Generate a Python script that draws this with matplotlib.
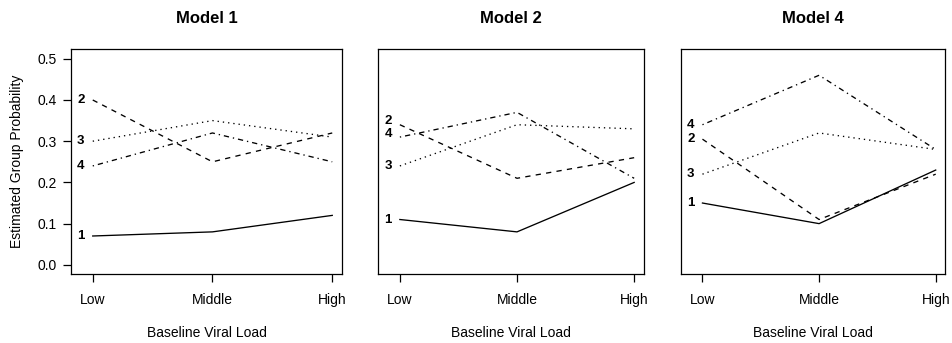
import matplotlib
matplotlib.use('Agg')
import matplotlib.pyplot as plt

plt.rcParams['font.family'] = ['Liberation Sans', 'DejaVu Sans']

categories = ['Low', 'Middle', 'High']
xpos = [1, 2, 3]
models = ['Model 1', 'Model 2', 'Model 4']
groups = ['1', '2', '3', '4']

# group probabilities per model, groups 1..4
model1 = [[0.07, 0.08, 0.12],
          [0.40, 0.25, 0.32],
          [0.30, 0.35, 0.31],
          [0.24, 0.32, 0.25]]
model2 = [[0.11, 0.08, 0.20],
          [0.34, 0.21, 0.26],
          [0.24, 0.34, 0.33],
          [0.31, 0.37, 0.21]]
model4 = [[0.15, 0.10, 0.23],
          [0.305, 0.11, 0.22],
          [0.22, 0.32, 0.28],
          [0.34, 0.46, 0.28]]
# y positions of the group labels at the left
labels1 = [0.07, 0.40, 0.30, 0.24]
labels2 = [0.11, 0.349, 0.24, 0.318]
labels4 = [0.15, 0.305, 0.22, 0.34]

yticks = [0.0, 0.1, 0.2, 0.3, 0.4, 0.5]

styles = ['-', (0, (4, 4)), (0, (1, 3)), (0, (1, 3, 4, 3))]

W, H = 953, 343
# axes boxes in pixels: left, right
boxes = [(70.7, 342.3), (378.3, 644.0), (681.0, 945.5)]
top, bottom = 49.3, 273.5

def addPanel(fig, box, title, data, labelY, first):
  left, right = box
  ax = fig.add_axes([left / W, 1 - bottom / H, (right - left) / W, (bottom - top) / H])
  for i in range(len(groups)):
    ax.plot(xpos, data[i], color='black', lw=0.95, linestyle=styles[i])
    ax.text(0.9, labelY[i], groups[i], ha='center', va='center', fontsize=9.5, fontweight='bold')
  ax.set_xlim(0.816, 3.084)
  ax.set_ylim(-0.021, 0.523)
  ax.set_xticks(xpos)
  ax.set_xticklabels(categories, fontsize=10)
  ax.tick_params(axis='x', length=6, width=0.9, pad=8)
  if first:
    ax.set_yticks(yticks)
    ax.set_yticklabels(['%.1f' % v for v in yticks], fontsize=10)
    ax.tick_params(axis='y', length=6, width=0.9, pad=4)
    ax.set_ylabel('Estimated Group Probability', fontsize=10, labelpad=10)
  else:
    ax.set_yticks([])
  for s in ax.spines.values():
    s.set_linewidth(0.9)
  ax.set_title(title, fontsize=12, fontweight='bold', pad=19)
  ax.set_xlabel('Baseline Viral Load', fontsize=10, labelpad=14)
  return ax

fig = plt.figure(figsize=(W / 100, H / 100), dpi=100)
addPanel(fig, boxes[0], models[0], model1, labels1, True)
addPanel(fig, boxes[1], models[1], model2, labels2, False)
addPanel(fig, boxes[2], models[2], model4, labels4, False)
fig.savefig('out.png', dpi=100)
